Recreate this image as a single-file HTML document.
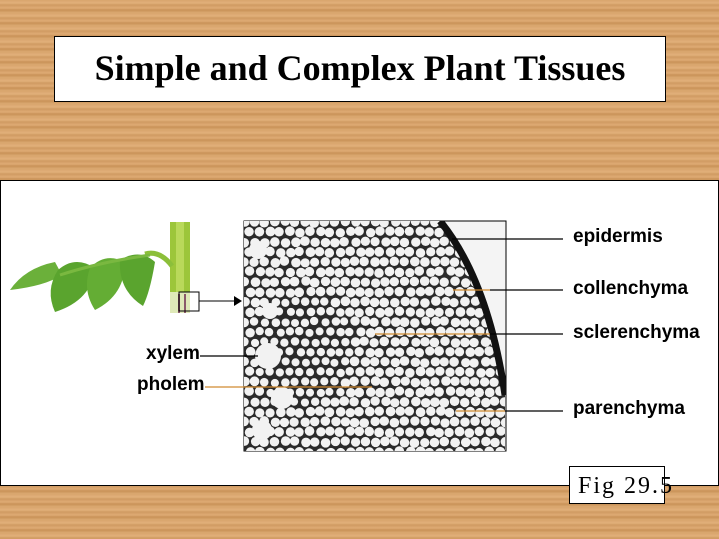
<!DOCTYPE html>
<html><head><meta charset="utf-8">
<style>
html,body{margin:0;padding:0;}
body{width:719px;height:539px;position:relative;overflow:hidden;font-family:"Liberation Sans",sans-serif;
background:repeating-linear-gradient(180deg,#d9a56d 0px,#e2b07a 3px,#cf9a62 5px,#deab74 8px,#c99258 10px,#dcaa72 13px);}
.title{position:absolute;left:54px;top:36px;width:610px;height:64px;background:#fff;border:1px solid #000;
font-family:"Liberation Serif",serif;font-weight:bold;font-size:36px;text-align:center;line-height:62px;white-space:nowrap;}
.panel{position:absolute;left:0;top:180px;width:717px;height:304px;background:#fff;border:1px solid #000;}
.lbl{position:absolute;font-weight:bold;font-size:19px;}
.fig{position:absolute;left:569px;top:466px;width:96px;height:38px;background:#fff;border:1px solid #000;
font-family:"Liberation Serif",serif;font-size:24px;line-height:38px;padding-left:8px;box-sizing:border-box;letter-spacing:2px;white-space:nowrap;}
svg{position:absolute;left:0;top:0;}
</style></head><body>
<div class="title">Simple and Complex Plant Tissues</div>
<div class="panel"></div>
<svg width="719" height="539" id="s">
<defs><clipPath id="c"><path d="M244,221 L440,221 Q488,280 505,395 L505,451 L244,451 Z"/></clipPath>
<clipPath id="c2"><rect x="244" y="221" width="262" height="230"/></clipPath></defs>
<g>
<path d="M170,222 L190,222 L190,312 L170,312 Z" fill="#9cc63a"/>
<path d="M176,222 L184,222 L184,312 L176,312 Z" fill="#b9d95a"/>
<rect x="170" y="292" width="20" height="21" fill="#dfe9b8"/>
<line x1="179" y1="294" x2="179" y2="313" stroke="#8a5a6a" stroke-width="2"/>
<line x1="185" y1="294" x2="185" y2="313" stroke="#8a5a6a" stroke-width="2"/>
<path d="M172,266 Q160,250 145,254" stroke="#8cbf3a" stroke-width="5" fill="none"/>
<path d="M10,290 Q25,268 55,262 L62,275 Q45,286 10,290Z" fill="#6bb03a"/>
<path d="M58,270 Q75,255 95,268 Q92,300 55,312 Q45,290 58,270Z" fill="#5aa42e"/>
<path d="M90,268 Q105,252 125,262 Q125,295 95,310 Q82,290 90,268Z" fill="#64ad34"/>
<path d="M120,260 Q140,248 155,262 Q150,292 143,306 Q118,290 120,260Z" fill="#5aa42e"/>
<path d="M60,275 Q100,262 150,255" stroke="#7ab840" stroke-width="3" fill="none"/>
<rect x="179" y="292" width="20" height="19" fill="none" stroke="#000"/>
<line x1="199" y1="301" x2="234" y2="301" stroke="#000"/>
<polygon points="234,296 242,301 234,306" fill="#000"/>
</g>
<rect x="244" y="221" width="262" height="230" fill="#f4f4f4" stroke="#000"/>
<g clip-path="url(#c)"><rect x="244" y="221" width="262" height="230" fill="#2a2a2a"/><g id="cells"></g></g>
<path d="M440,221 Q488,280 505,395" stroke="#111" stroke-width="7" fill="none" clip-path="url(#c2)"/>
<g stroke-width="1.3">
<line x1="200" y1="356" x2="258" y2="356" stroke="#000"/>
<line x1="205" y1="387" x2="372" y2="387" stroke="#d08a30"/>
<line x1="452" y1="239" x2="563" y2="239" stroke="#000"/>
<line x1="453" y1="290" x2="490" y2="290" stroke="#d08a30"/><line x1="490" y1="290" x2="563" y2="290" stroke="#000"/>
<line x1="375" y1="334" x2="490" y2="334" stroke="#d08a30"/><line x1="490" y1="334" x2="563" y2="334" stroke="#000"/>
<line x1="456" y1="411" x2="505" y2="411" stroke="#d08a30"/><line x1="505" y1="411" x2="563" y2="411" stroke="#000"/>
</g>
</svg>
<div class="lbl" style="left:573px;top:226px">epidermis</div>
<div class="lbl" style="left:573px;top:278px">collenchyma</div>
<div class="lbl" style="left:573px;top:322px">sclerenchyma</div>
<div class="lbl" style="left:573px;top:398px">parenchyma</div>
<div class="lbl" style="left:146px;top:343px">xylem</div>
<div class="lbl" style="left:137px;top:374px">pholem</div>
<div class="fig">Fig 29.5</div>
<script>
var g=document.getElementById('cells'),h='',seed=7;
function r(){seed=(seed*9301+49297)%233280;return seed/233280;}
for(var y=222;y<455;y+=10){for(var x=245;x<510;x+=10){
 var d=Math.hypot(x-300,y-350);var rr=d<55?4.0:4.6;
 h+='<circle cx="'+(x+(r()-.5)*2+((y/10|0)%2)*5)+'" cy="'+(y+(r()-.5)*2)+'" r="'+(rr+r()*0.3)+'" fill="#f2f2f2"/>';}}
h+='<circle cx="268" cy="356" r="13" fill="#f2f2f2"/><circle cx="282" cy="398" r="11" fill="#f2f2f2"/><circle cx="270" cy="311" r="8" fill="#f2f2f2"/><circle cx="258" cy="250" r="9" fill="#f2f2f2"/><circle cx="262" cy="430" r="10" fill="#f2f2f2"/>';
g.innerHTML=h;
</script>
</body></html>
